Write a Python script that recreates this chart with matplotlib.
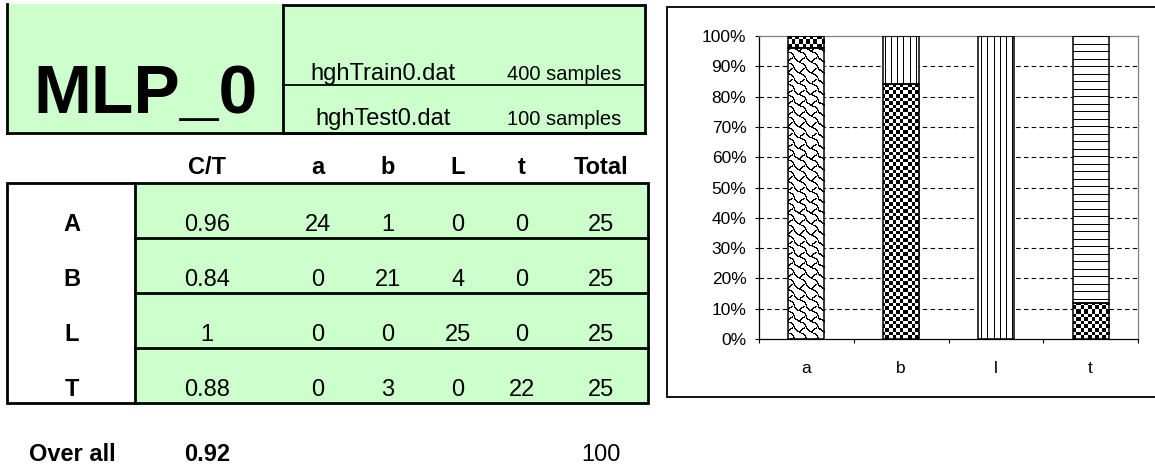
import numpy as np
import matplotlib
matplotlib.use("Agg")
import matplotlib.pyplot as plt
from matplotlib.patches import Rectangle
from matplotlib.ticker import PercentFormatter, FixedLocator

plt.rcParams['font.family'] = ['Liberation Sans', 'DejaVu Sans']

# ---------------------------------------------------------------- data
model_name = "MLP_0"
train_file = "hghTrain0.dat"
train_samples = 400
test_file = "hghTest0.dat"
test_samples = 100

true_classes = ["A", "B", "L", "T"]          # table rows
pred_columns = ["a", "b", "L", "t"]          # table columns
bar_labels = ["a", "b", "l", "t"]            # chart categories

# predicted-class counts for each true class (one list per predicted class)
pred_a = [24, 0, 0, 0]
pred_b = [1, 21, 0, 3]
pred_L = [0, 4, 25, 0]
pred_t = [0, 0, 0, 22]
row_totals = [25, 25, 25, 25]
class_rates = [0.96, 0.84, 1, 0.88]
overall_rate = 0.92
overall_total = 100

# ---------------------------------------------------------------- figure
W, H = 1155, 468
fig = plt.figure(figsize=(W / 100, H / 100), dpi=100)
fig.patch.set_facecolor("white")

# page layer in pixel units (y grows downwards)
pg = fig.add_axes([0, 0, 1, 1], zorder=0)
pg.set_xlim(0, W)
pg.set_ylim(H, 0)
pg.axis("off")

GREEN = "#CCFFCC"
LW = 2.0

# title block
pg.add_patch(Rectangle((7, 4), 276, 129, facecolor=GREEN, edgecolor="none"))
pg.plot([7, 7], [4, 133], color="black", lw=LW, solid_capstyle="projecting")
pg.add_patch(Rectangle((283, 5), 362, 128, facecolor=GREEN, edgecolor="black", lw=LW))
pg.plot([7, 645], [133, 133], color="black", lw=LW)
pg.plot([283, 645], [85, 85], color="black", lw=1.3)
pg.text(145, 113, model_name, ha="center", va="baseline", fontsize=50, fontweight="bold")
pg.text(383, 80, train_file, ha="center", va="baseline", fontsize=17)
pg.text(564, 80, f"{train_samples} samples", ha="center", va="baseline", fontsize=14.5)
pg.text(383, 125, test_file, ha="center", va="baseline", fontsize=17)
pg.text(564, 125, f"{test_samples} samples", ha="center", va="baseline", fontsize=14.5)

# confusion table
col_x = [207, 318, 388, 458, 522, 601]
label_x = 72
top, row_h = 183, 55
left, div_x, right = 7, 135, 648
n_rows = len(true_classes)
bottom_y = top + n_rows * row_h

header = ["C/T"] + pred_columns + ["Total"]
for cx, h in zip(col_x, header):
    pg.text(cx, 174, h, ha="center", va="baseline", fontsize=17, fontweight="bold")

pg.add_patch(Rectangle((div_x, top), right - div_x, bottom_y - top, facecolor=GREEN, edgecolor="none"))
pg.add_patch(Rectangle((left, top), right - left, bottom_y - top, facecolor="none", edgecolor="black", lw=LW))
pg.plot([div_x, div_x], [top, bottom_y], color="black", lw=LW)
for i in range(1, n_rows):
    y = top + i * row_h
    pg.plot([div_x, right], [y, y], color="black", lw=LW)

columns = [pred_a, pred_b, pred_L, pred_t]
for i, cls in enumerate(true_classes):
    base = top + (i + 1) * row_h - 7
    pg.text(label_x, base, cls, ha="center", va="baseline", fontsize=17, fontweight="bold")
    cells = [f"{class_rates[i]:g}"] + [str(c[i]) for c in columns] + [str(row_totals[i])]
    for cx, s in zip(col_x, cells):
        pg.text(cx, base, s, ha="center", va="baseline", fontsize=17)

pg.text(label_x, 461, "Over all", ha="center", va="baseline", fontsize=17, fontweight="bold")
pg.text(col_x[0], 461, f"{overall_rate:g}", ha="center", va="baseline", fontsize=17, fontweight="bold")
pg.text(col_x[-1], 461, str(overall_total), ha="center", va="baseline", fontsize=17)

# chart frame
pg.add_patch(Rectangle((667, 7), 600, 390, facecolor="white", edgecolor="black", lw=1.3))

# ---------------------------------------------------------------- chart
ax_l, ax_t, ax_w, ax_h = 759, 36, 379, 303
ax = fig.add_axes([ax_l / W, (H - ax_t - ax_h) / H, ax_w / W, ax_h / H], zorder=1)
ax.set_facecolor("white")
ax.set_autoscale_on(False)
ax.set_xlim(-0.5, len(bar_labels) - 0.5)
ax.set_ylim(0, 1)

# fill patterns, one pixel per axes pixel
Y, X = np.mgrid[0:ax_h, 0:ax_w]


def stroke_mask(strokes, sx, sy, period=8):
    mask = np.zeros((ax_h, ax_w), bool)
    pts = []
    for stroke in strokes:
        for (x0, y0), (x1, y1) in zip(stroke[:-1], stroke[1:]):
            t = np.linspace(0, 1, 40)
            pts.append(np.c_[x0 + (x1 - x0) * t, y0 + (y1 - y0) * t])
    pts = np.vstack(pts)
    for ty in range(-1, int(ax_h / (period * sy)) + 2):
        for tx in range(-1, int(ax_w / (period * sx)) + 2):
            px = np.floor((pts[:, 0] + tx * period) * sx).astype(int)
            py = np.floor((pts[:, 1] + ty * period) * sy).astype(int)
            ok = (px >= 0) & (px < ax_w) & (py >= 0) & (py < ax_h)
            mask[py[ok], px[ok]] = True
    return mask


shingle = stroke_mask(
    [[(0, 1), (1, 2), (2, 3), (3, 3.3), (4, 4), (5, 4.3), (6, 5), (7, 6), (7.3, 7), (7.6, 8), (8, 9)],
     [(6.5, 0), (5, 1), (4, 2), (3, 3.3)]],
    sx=1.5, sy=1.35)
checker = ((np.floor(X / 3.6) + np.floor(Y / 3.6)) % 2) == 0
vlines = (X % 6) == 0
hlines = (Y % 7.5) < 1


def to_rgba(mask):
    img = np.zeros((ax_h, ax_w, 4))
    img[mask, 3] = 1.0
    return img


patterns = [to_rgba(m) for m in (shingle, checker, vlines, hlines)]

xpos = np.arange(len(bar_labels))
bar_w = 0.38
stack = np.zeros(len(bar_labels))
for series, pat in zip(columns, patterns):
    frac = np.array(series, float) / np.array(row_totals, float)
    bars = ax.bar(xpos, frac, bottom=stack, width=bar_w, facecolor="white",
                  edgecolor="none", zorder=2)
    for rect, f in zip(bars, frac):
        if f <= 0:
            continue
        im = ax.imshow(pat, extent=(0, 1, 0, 1), transform=ax.transAxes,
                       interpolation="nearest", aspect="auto", zorder=3)
        im.set_clip_path(rect)
    ax.bar(xpos, frac, bottom=stack, width=bar_w, fill=False,
           edgecolor=["black" if f > 0 else "none" for f in frac], lw=1.1, zorder=4)
    stack += frac

ax.set_xlim(-0.5, len(bar_labels) - 0.5)
ax.set_ylim(0, 1)

yt = np.round(np.arange(0, 1.0001, 0.1), 2)
for t in yt[1:-1]:
    ax.axhline(t, color="black", lw=0.8, linestyle=(0, (4, 3)), zorder=1)

ax.yaxis.set_major_locator(FixedLocator(yt))
ax.yaxis.set_major_formatter(PercentFormatter(1.0, decimals=0))
ax.tick_params(axis="y", direction="out", length=3, width=0.8, pad=6,
               labelsize=12.5, colors="black")
ax.set_xticks(xpos)
ax.set_xticklabels(bar_labels)
ax.set_xticks(np.arange(-0.5, len(bar_labels)), minor=True)
ax.tick_params(axis="x", which="major", length=0, pad=16, labelsize=12.5)
ax.tick_params(axis="x", which="minor", direction="out", length=3, width=0.8)

for side in ("left", "bottom"):
    ax.spines[side].set_color("black")
    ax.spines[side].set_linewidth(0.9)
for side in ("top", "right"):
    ax.spines[side].set_color("#808080")
    ax.spines[side].set_linewidth(0.9)

fig.savefig("out.png", dpi=100)
